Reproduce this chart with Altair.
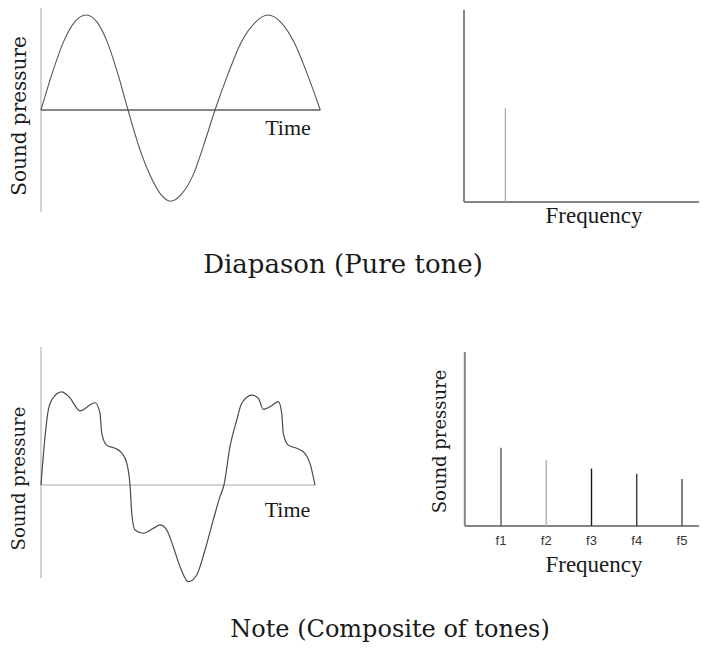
import altair as alt
import pandas as pd

# ---- data ----
# Pure tone waveform: time in half-periods, pressure relative to the peak
pure_time = [0, 0.13, 0.26, 0.39, 0.52, 0.64, 0.76, 0.88, 1.0,
             1.12, 1.25, 1.37, 1.49, 1.62, 1.75, 1.87, 2.0,
             2.15, 2.30, 2.46, 2.61, 2.76, 2.91, 3.06, 3.21]
pure_pressure = [0, 0.39, 0.72, 0.93, 1.0, 0.93, 0.72, 0.39, 0,
                 -0.37, -0.68, -0.88, -0.96, -0.88, -0.68, -0.37, 0,
                 0.38, 0.71, 0.92, 1.0, 0.92, 0.71, 0.38, 0]

# Composite waveform (note)
note_time = [0, 0.046, 0.084, 0.138, 0.238, 0.333, 0.448, 0.621, 0.678, 0.698,
             0.755, 0.851, 0.928, 0.985, 1.023, 1.043, 1.08, 1.176, 1.291, 1.368,
             1.445, 1.52, 1.598, 1.693, 1.79, 1.885, 1.98, 2.057, 2.103, 2.172,
             2.25, 2.307, 2.422, 2.498, 2.555, 2.632, 2.728, 2.767, 2.785, 2.843,
             2.939, 3.034, 3.092, 3.149]
note_pressure = [0, 0.505, 0.79, 0.916, 0.98, 0.916, 0.78, 0.866, 0.758, 0.547,
                 0.42, 0.386, 0.337, 0.232, 0, -0.295, -0.474, -0.508, -0.456, -0.42,
                 -0.474, -0.65, -0.86, -1.018, -0.947, -0.684, -0.368, -0.123, 0, 0.403,
                 0.684, 0.86, 0.947, 0.913, 0.797, 0.824, 0.877, 0.755, 0.544, 0.42,
                 0.386, 0.334, 0.228, 0]

# Spectra
pure_freq = [0.17]
pure_amp = [0.49]
note_freq = [1, 2, 3, 4, 5]
note_amp = [0.45, 0.38, 0.33, 0.30, 0.27]
note_labels = ["f1", "f2", "f3", "f4", "f5"]

title_top = "Diapason (Pure tone)"
title_bottom = "Note (Composite of tones)"

# ---- styles ----
spike_colors = ["#5a5a5a", "#b0b0b0", "#1a1a1a", "#383838", "#4a4a4a"]
TXT = "#1a1a1a"


def sc(domain, rng):
    return alt.Scale(domain=domain, range=rng, nice=False, zero=False)


X_TL = sc([0, 3.21], [33, 312.3])
Y_TL = sc([-1, 1], [197, 7])
X_BL = sc([0, 3.15], [33, 307.05])
Y_BL = sc([-1, 1], [572, 382])
X_TR = sc([0, 1], [456, 699])
Y_TR = sc([0, 1], [194, 2])
X_BR = sc([0, 6], [447.75, 719.25])
Y_BR = sc([0, 1], [518, 344])


def px(field, s):
    return alt.X(f"{field}:Q", scale=s, axis=None)


def py(field, s):
    return alt.Y(f"{field}:Q", scale=s, axis=None)


def segs(rows, xs, ys, color, width):
    df = pd.DataFrame(rows, columns=["x", "y", "x2", "y2"])
    return alt.Chart(df).mark_rule(color=color, strokeWidth=width).encode(
        x=px("x", xs), y=py("y", ys), x2="x2:Q", y2="y2:Q")


def label(text, x, y, xs, ys, font, size, angle=0, baseline="alphabetic"):
    df = pd.DataFrame({"x": [x], "y": [y], "text": [text]})
    return alt.Chart(df).mark_text(font=font, fontSize=size, angle=angle,
                                   align="center", baseline=baseline, color=TXT).encode(
        x=px("x", xs), y=py("y", ys), text="text:N")


def title(text, cx, by, size):
    df = pd.DataFrame({"text": [text]})
    return alt.Chart(df).mark_text(font="DejaVu Serif", fontSize=size, align="center",
                                   baseline="alphabetic", color=TXT).encode(
        x=alt.value(cx), y=alt.value(by), text="text:N")


layers = []

# ---- top-left: pure tone waveform ----
layers.append(segs([[0, 1.1, 0, -1.074]], X_TL, Y_TL, "#c4c4c4", 1.5))
layers.append(segs([[0, 0, 3.21, 0]], X_TL, Y_TL, "#111111", 1.2))
layers.append(alt.Chart(pd.DataFrame({"t": pure_time, "p": pure_pressure}))
              .mark_line(interpolate="monotone", color="#555555", strokeWidth=1.1)
              .encode(x=px("t", X_TL), y=py("p", Y_TL)))
layers.append(label("Time", 2.839, -0.263, X_TL, Y_TL, "Liberation Serif", 22))
layers.append(label("Sound pressure", -0.236, -0.063, X_TL, Y_TL, "DejaVu Serif", 20,
                    angle=270, baseline="middle"))

# ---- top-right: pure tone spectrum ----
layers.append(segs([[0, 0, 0, 1], [0, 0, 1, 0]], X_TR, Y_TR, "#858585", 2))
layers.append(alt.Chart(pd.DataFrame({"f": pure_freq, "a": pure_amp}))
              .mark_rule(color="#a8a8a8", strokeWidth=1.2)
              .encode(x=px("f", X_TR), y=py("a", Y_TR), y2=alt.datum(0)))
layers.append(label("Frequency", 0.535, -0.109, X_TR, Y_TR, "Liberation Serif", 23))

# ---- bottom-left: composite waveform ----
layers.append(segs([[0, 1.453, 0, -0.979], [0, 0, 3.16, 0]], X_BL, Y_BL, "#c4c4c4", 1.5))
layers.append(alt.Chart(pd.DataFrame({"t": note_time, "p": note_pressure}))
              .mark_line(interpolate="monotone", color="#4a4a4a", strokeWidth=1.2)
              .encode(x=px("t", X_BL), y=py("p", Y_BL)))
layers.append(label("Time", 2.833, -0.337, X_BL, Y_BL, "Liberation Serif", 22))
layers.append(label("Sound pressure", -0.236, 0.068, X_BL, Y_BL, "DejaVu Serif", 18,
                    angle=270, baseline="middle"))

# ---- bottom-right: composite spectrum ----
layers.append(segs([[0.2, 0, 0.2, 1], [0.2, 0, 6, 0]], X_BR, Y_BR, "#858585", 2))
layers.append(alt.Chart(pd.DataFrame({"f": note_freq, "a": note_amp, "lab": note_labels}))
              .mark_rule(strokeWidth=1.4)
              .encode(x=px("f", X_BR), y=py("a", Y_BR), y2=alt.datum(0),
                      color=alt.Color("lab:N", scale=alt.Scale(domain=note_labels, range=spike_colors),
                                      legend=None)))
layers.append(alt.Chart(pd.DataFrame({"f": note_freq, "lab": note_labels, "y": [-0.112] * 5}))
              .mark_text(font="Liberation Sans", fontSize=13, align="center",
                         baseline="alphabetic", color="#333333")
              .encode(x=px("f", X_BR), y=py("y", Y_BR), text="lab:N"))
layers.append(label("Frequency", 3.055, -0.262, X_BR, Y_BR, "Liberation Serif", 23))
layers.append(label("Sound pressure", -0.337, 0.486, X_BR, Y_BR, "DejaVu Serif", 18,
                    angle=270, baseline="middle"))

# ---- titles ----
layers.append(title(title_top, 335, 265, 26))
layers.append(title(title_bottom, 382, 629, 24))

chart = (alt.layer(*layers)
         .resolve_scale(x="independent", y="independent", color="independent")
         .properties(width=691, height=642, padding=0, autosize="none")
         .configure_view(stroke="transparent"))

chart.save("out.html", embed_options={"renderer": "svg", "actions": False})
